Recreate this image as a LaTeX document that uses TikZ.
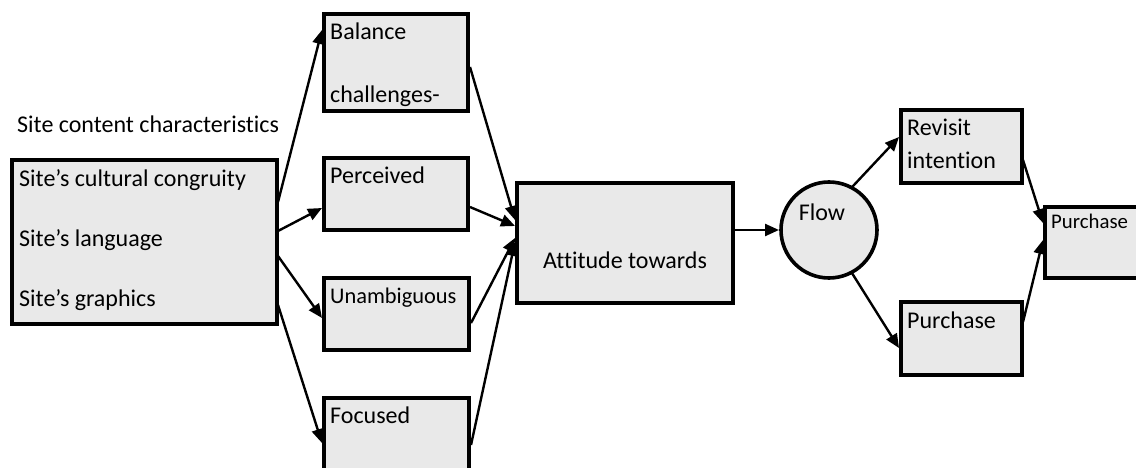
\documentclass[tikz,border=0pt]{standalone}
\usepackage{fontspec}
\setmainfont{Carlito}[Ligatures={TeX,NoCommon}]
\usetikzlibrary{arrows.meta,calc}
\definecolor{boxfill}{RGB}{233,233,233}
\begin{document}
\begin{tikzpicture}[x=1pt,y=-1pt,
  box/.style={draw, line width=3.6pt, fill=boxfill, rectangle, inner sep=0pt, outer sep=0pt, anchor=north west},
  txt/.style={font=\fontsize{24}{28}\selectfont, inner sep=0pt, anchor=base west},
  smalltxt/.style={font=\fontsize{20.8}{25}\selectfont, inner sep=0pt, anchor=base west},
  conn/.style={line width=2.4pt, -{Triangle[length=14pt,width=12pt]}}]
\useasboundingbox (0,0) rectangle (1136,468);

% boxes
\node[box, minimum width=265pt, minimum height=164pt] (src) at (12,160) {};
\node[box, minimum width=144pt, minimum height=97pt] (bal) at (324,14) {};
\node[box, minimum width=144pt, minimum height=72pt] (per) at (324,158) {};
\node[box, minimum width=145pt, minimum height=72pt] (una) at (324,278) {};
\node[box, minimum width=145pt, minimum height=90pt] (foc) at (324,398) {};
\node[box, minimum width=216pt, minimum height=120pt] (att) at (517,183) {};
\node[draw, circle, line width=3.6pt, fill=boxfill, inner sep=0pt, outer sep=0pt, minimum size=96pt] (flow) at (829,230) {};
\node[box, minimum width=121pt, minimum height=73pt] (rev) at (901,110) {};
\node[box, minimum width=121pt, minimum height=73pt] (pur2) at (901,302) {};
\node[box, minimum width=110pt, minimum height=71pt] (pur) at (1045,207) {};

% texts
\node[txt] (lab) at (17,133) {Site content characteristics};
\node[txt] (s1) at (19,186) {Site’s cultural congruity};
\node[txt] (s2) at (19,246) {Site’s language};
\node[txt] (s3) at (19,306) {Site’s graphics};
\node[txt] (b1) at (330,40) {Balance};
\node[txt] (b2) at (330,103) {challenges-};
\node[txt] (p1) at (330,183) {Perceived};
\node[txt, font=\fontsize{22.4}{27}\selectfont] (u1) at (330,303) {Unambiguous};
\node[txt] (f1) at (330,423) {Focused};
\node[txt, anchor=base] (a1) at (625,268) {Attitude towards};
\node[txt, anchor=base] (fl) at (822,221) {Flow};
\node[txt] (r1) at (907,136) {Revisit};
\node[txt] (r2) at (907,168) {intention};
\node[txt] (q1) at (907,328) {Purchase};
\node[smalltxt] (q2) at (1051,229) {Purchase};

% connectors
\draw[conn] ($(src.north east)+(1,42)$) -- ($(bal.north west)+(-2,16)$);
\draw[conn] ($(src.north east)+(1,71)$) -- ($(per.north west)+(-2,50)$);
\draw[conn] ($(src.north east)+(1,96)$) -- ($(una.north west)+(-2,40)$);
\draw[conn] ($(src.north east)+(1,145)$) -- ($(foc.north west)+(-2,45)$);
\draw[conn] ($(bal.north east)+(2,53)$) -- ($(att.north west)+(-2,37)$);
\draw[conn] ($(per.north east)+(2,49)$) -- ($(att.north west)+(-2,43)$);
\draw[conn] ($(una.north east)+(2,45)$) -- ($(att.north west)+(-2,55)$);
\draw[conn] ($(foc.north east)+(2,47)$) -- ($(att.north west)+(-2,59)$);
\draw[conn] ($(att.north east)+(2,47)$) -- ($(flow.west)+(-2,0)$);
\draw[conn] (flow.62) -- ($(rev.north west)+(-2,27)$);
\draw[conn] (flow.-62) -- ($(pur2.north west)+(-2,46)$);
\draw[conn] ($(rev.north east)+(1,50)$) -- ($(pur.north west)+(-2,16)$);
\draw[conn] ($(pur2.north east)+(1,20)$) -- ($(pur.north west)+(-2,33)$);
\end{tikzpicture}
\end{document}
